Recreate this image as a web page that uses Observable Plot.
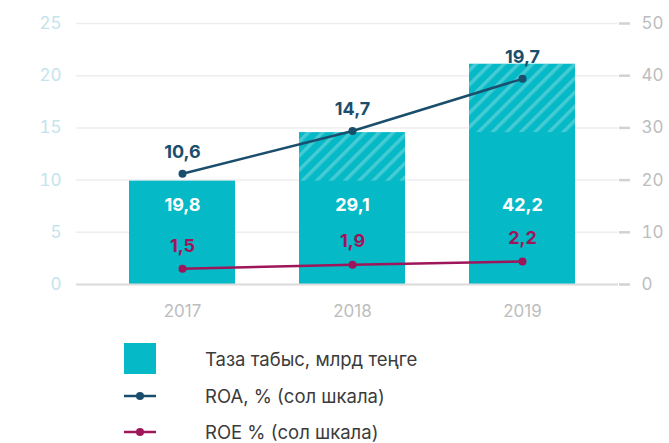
<!DOCTYPE html>
<html><head><meta charset="utf-8">
<script src="https://cdn.jsdelivr.net/npm/d3@7"></script>
<script src="https://cdn.jsdelivr.net/npm/@observablehq/plot@0.6"></script>
<style>
body{margin:0;background:#fff;font-family:Inter,"Noto Sans",sans-serif;}
#legend{position:relative;height:113px;width:669px;}
.sw{position:absolute;}
.lt{position:absolute;font-size:18.5px;color:#3b3b3b;line-height:22px;white-space:nowrap;}
</style></head><body><div id="chart"></div><div id="legend"></div>
<script>
const years = ["2017", "2018", "2019"];
const netIncome = [19.8, 29.1, 42.2];   // right scale, bn tenge
const roa = [10.6, 14.7, 19.7];         // left scale, %
const roe = [1.5, 1.9, 2.2];            // left scale, %
const leftTicks = [0, 5, 10, 15, 20, 25];
const rightTicks = [0, 10, 20, 30, 40, 50];
const legendLabels = ["Таза табыс, млрд теңге", "ROA, % (сол шкала)", "ROE % (сол шкала)"];

const ratio = rightTicks[rightTicks.length - 1] / leftTicks[leftTicks.length - 1];
const fmt = d => d.toFixed(1).replace(".", ",");
const rows = years.map((y, i) => ({year: y, income: netIncome[i], prev: i > 0 ? netIncome[i - 1] : null, roa: roa[i], roe: roe[i]}));
const growth = rows.filter(d => d.prev != null);

const C = {bar: "#05b9c6", roa: "#1b4e6c", roe: "#9e1659", left: "#c3e4ec", right: "#bdbdbd"};
const font = "Inter, 'Noto Sans', sans-serif";

const chart = Plot.plot({
  width: 669, height: 330,
  marginLeft: 76, marginRight: 51, marginTop: 23, marginBottom: 46,
  style: {fontFamily: font, background: "#fff"},
  x: {type: "band", domain: years, range: [97, 607], paddingInner: 0.376, paddingOuter: 0.188, label: null},
  y: {domain: [0, 25], label: null},
  marks: [
    Plot.gridY(leftTicks, {stroke: "#eeeeee", strokeOpacity: 1, strokeWidth: 1.5}),
    Plot.axisY(leftTicks, {anchor: "left", tickSize: 0, tickPadding: 15, fill: C.left, fontSize: 17, label: null}),
    Plot.axisY(leftTicks, {anchor: "right", tickSize: 11, tickPadding: 12, stroke: "#d2d2d2", strokeWidth: 2.5, fill: C.right, fontSize: 17, tickFormat: d => d * ratio, label: null}),
    Plot.axisX({tickSize: 0, tickPadding: 20, fill: C.right, fontSize: 17, label: null}),
    Plot.barY(rows, {x: "year", y: d => d.income / ratio, fill: C.bar}),
    Plot.rectY(growth, {x: "year", y1: d => d.prev / ratio, y2: d => d.income / ratio, fill: "url(#hatch)"}),
    Plot.ruleY([0], {stroke: "#dcdcdc", strokeWidth: 2}),
    Plot.text(rows, {x: "year", y: 7.6, text: d => fmt(d.income), fill: "#fff", fontSize: 18, fontWeight: 700}),
    Plot.line(rows, {x: "year", y: "roa", stroke: C.roa, strokeWidth: 2.5}),
    Plot.dot(rows, {x: "year", y: "roa", fill: C.roa, r: 4}),
    Plot.text(rows, {x: "year", y: "roa", dy: -22, text: d => fmt(d.roa), fill: C.roa, fontSize: 18, fontWeight: 700}),
    Plot.line(rows, {x: "year", y: "roe", stroke: C.roe, strokeWidth: 2.5}),
    Plot.dot(rows, {x: "year", y: "roe", fill: C.roe, r: 4}),
    Plot.text(rows, {x: "year", y: "roe", dy: -23, text: d => fmt(d.roe), fill: C.roe, fontSize: 18, fontWeight: 700})
  ]
});
d3.select(chart).insert("defs", ":first-child").html(
  `<pattern id="hatch" patternUnits="userSpaceOnUse" width="10" height="10" patternTransform="rotate(45)">
     <rect x="0" y="0" width="3.5" height="10" fill="#ffffff" fill-opacity="0.25"></rect>
   </pattern>`);
document.getElementById("chart").appendChild(chart);

// legend
const lg = d3.select("#legend");
const rowsY = [29, 66, 102];
lg.append("div").attr("class", "sw").style("left", "124px").style("top", (rowsY[0] - 16) + "px")
  .style("width", "32px").style("height", "31px").style("background", C.bar);
[C.roa, C.roe].forEach((c, i) => {
  const s = lg.append("svg").attr("class", "sw").attr("width", 34).attr("height", 10)
    .style("left", "123px").style("top", (rowsY[i + 1] - 5) + "px");
  s.append("line").attr("x1", 1).attr("x2", 33).attr("y1", 5).attr("y2", 5).attr("stroke", c).attr("stroke-width", 2.5);
  s.append("circle").attr("cx", 17).attr("cy", 5).attr("r", 4).attr("fill", c);
});
legendLabels.forEach((t, i) => {
  lg.append("div").attr("class", "lt").style("left", "205px").style("top", (rowsY[i] - 11) + "px").text(t);
});
</script></body></html>
